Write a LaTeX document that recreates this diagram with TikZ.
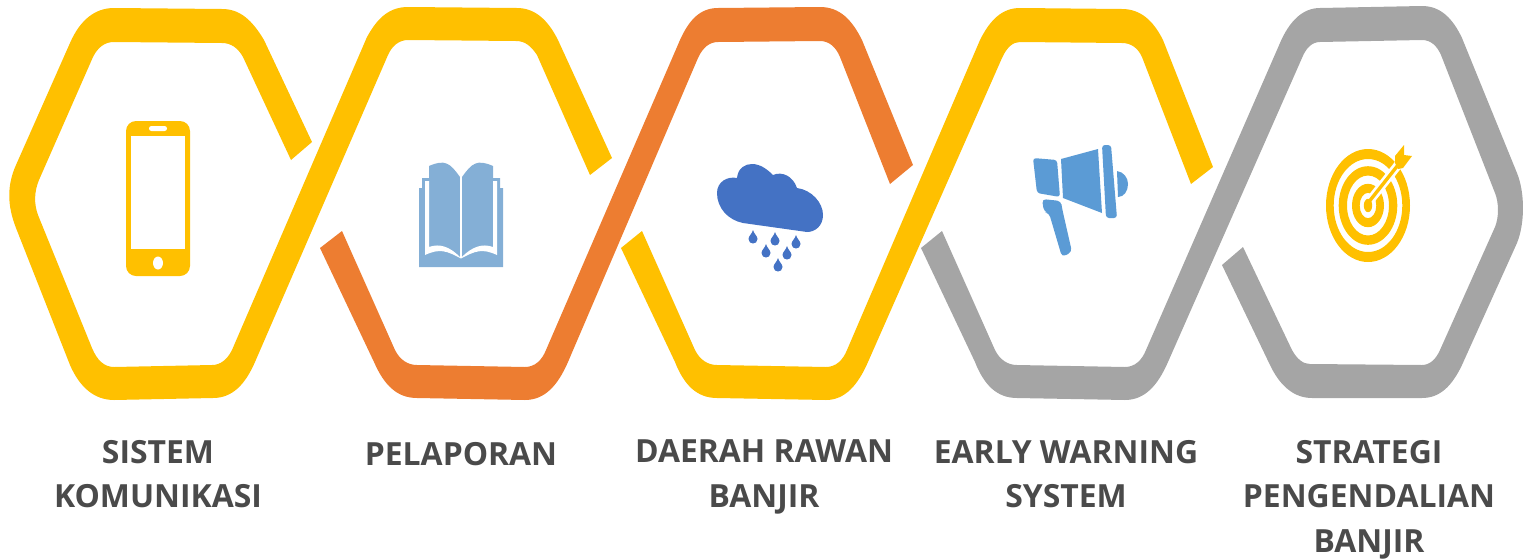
\documentclass[tikz,border=0pt]{standalone}
\usepackage{fontspec}
\setmainfont{Open Sans}
\definecolor{cyel}{HTML}{FFC000}
\definecolor{cora}{HTML}{ED7D31}
\definecolor{cgry}{HTML}{A5A5A5}
\definecolor{cbook}{HTML}{84AFD6}
\definecolor{crain}{HTML}{4472C4}
\definecolor{cmeg}{HTML}{5B9BD5}
\definecolor{ctxt}{HTML}{4A4A4A}
\tikzset{
  lbl/.style={font=\bfseries\fontsize{15.95}{22.4}\selectfont,text=ctxt,align=center,anchor=north,inner sep=0pt},
  band/.style={fill=#1,draw=none}
}
\begin{document}
\begin{tikzpicture}[x=0.5pt,y=-0.5pt]
\useasboundingbox (0,0) rectangle (1523,558);
% yellow 1
\path[band=cyel] (312,142) -- (264,40) .. controls (252,20) and (240,9) .. (222,9) -- (114,8)
 .. controls (95,8) and (80,20) .. (70,43) -- (16,165) .. controls (7,185) and (7,205) .. (16,228)
 -- (70,365) .. controls (80,388) and (95,400) .. (114,400) -- (213,398) .. controls (232,398) and (245,385) .. (255,362)
 -- (388,55) .. controls (392,46) and (399,40) .. (408,40) -- (516,41) .. controls (525,41) and (531,46) .. (537,55)
 -- (590,175) -- (612,158) -- (558,40) .. controls (548,20) and (535,8) .. (517,8) -- (408,7)
 .. controls (390,7) and (378,17) .. (367,37) -- (232,350) .. controls (227,360) and (220,365) .. (212,365)
 -- (114,367) .. controls (104,367) and (97,360) .. (92,348) -- (38,215) .. controls (34,204) and (34,192) .. (39,180)
 -- (93,57) .. controls (98,47) and (105,42) .. (114,42) -- (222,43) .. controls (231,43) and (238,48) .. (243,57) -- (291,160) -- cycle;
% orange
\path[band=cora] (320,248) -- (342,231) -- (395,350) .. controls (400,360) and (408,365) .. (417,365) -- (525,367)
 .. controls (535,367) and (542,360) .. (546,350) -- (680,40) .. controls (689,20) and (700,8) .. (718,8) -- (820,7)
 .. controls (840,7) and (852,20) .. (862,40) -- (913,165) -- (890,184) -- (840,57) .. controls (836,47) and (829,41) .. (820,41)
 -- (718,42) .. controls (710,42) and (703,47) .. (698,58) -- (568,362) .. controls (558,385) and (545,400) .. (525,400)
 -- (417,398) .. controls (397,398) and (384,385) .. (374,362) -- cycle;
% yellow 2
\path[band=cyel] (621,248) -- (642,231) -- (695,350) .. controls (700,360) and (708,365) .. (717,365) -- (826,367)
 .. controls (836,367) and (843,360) .. (847,350) -- (980,40) .. controls (990,20) and (1002,8) .. (1020,8) -- (1122,9)
 .. controls (1140,9) and (1153,20) .. (1163,40) -- (1213,167) -- (1191,184) -- (1142,57) .. controls (1138,48) and (1131,43) .. (1122,43)
 -- (1020,42) .. controls (1013,42) and (1007,47) .. (1002,58) -- (868,362) .. controls (858,385) and (845,400) .. (826,400)
 -- (717,398) .. controls (697,398) and (684,385) .. (675,362) -- cycle;
% gray
\path[band=cgry] (921,248) -- (942,231) -- (995,350) .. controls (1000,360) and (1008,365) .. (1017,365) -- (1125,367)
 .. controls (1135,367) and (1142,360) .. (1146,350) -- (1280,43) .. controls (1289,22) and (1302,8) .. (1320,8) -- (1422,6)
 .. controls (1441,6) and (1453,19) .. (1462,38) -- (1517,173) .. controls (1525,193) and (1525,223) .. (1517,243)
 -- (1462,365) .. controls (1452,386) and (1440,398) .. (1422,398) -- (1312,398) .. controls (1294,398) and (1280,386) .. (1270,365)
 -- (1222,265) -- (1243,247) -- (1292,350) .. controls (1297,359) and (1303,364) .. (1310,364) -- (1422,365)
 .. controls (1430,365) and (1436,359) .. (1440,350) -- (1495,227) .. controls (1499,217) and (1499,203) .. (1495,193)
 -- (1441,55) .. controls (1437,46) and (1431,40) .. (1422,40) -- (1320,42) .. controls (1312,42) and (1306,48) .. (1302,58)
 -- (1168,362) .. controls (1158,385) and (1145,400) .. (1125,400) -- (1017,398) .. controls (997,398) and (984,385) .. (975,362) -- cycle;
% phone
\fill[cyel,rounded corners=5pt] (126,121) rectangle (190,276);
\fill[white] (131,136) rectangle (185,249);
\fill[white,rounded corners=1.2pt] (149,126) rectangle (167,131);
\fill[white] (158,263) ellipse [x radius=5,y radius=6.5];
% book
\fill[cbook] (419,267) -- (419,188) -- (422,188) -- (422,178) -- (429,178) -- (429,166) .. controls (445,159) and (450,163) .. (460,177)
 -- (462,177) .. controls (472,163) and (477,159) .. (493,166) -- (493,178) -- (500,178) -- (500,188) -- (503,188) -- (503,267) -- cycle;
\fill[white] (425,181) -- (429,181) -- (429,247) .. controls (440,243) and (450,247) .. (460,257) -- (460,176) -- (461.8,176) -- (461.8,257)
 .. controls (472,247) and (482,243) .. (493,247) -- (493,181) -- (497,181) -- (497,255)
 .. controls (482,248) and (475,251) .. (461,258.5) .. controls (447,251) and (440,248) .. (425,255) -- cycle;
% cloud
\fill[crain] (737,178) .. controls (738,168) and (745,164) .. (752,164) .. controls (760,164) and (767,169) .. (773,175)
 .. controls (782,171) and (793,176) .. (797,188) .. controls (812,190) and (823,203) .. (823,215)
 .. controls (823,226) and (815,232) .. (807,232) -- (743,223) .. controls (728,220) and (717,208) .. (717,193)
 .. controls (717,182) and (727,176) .. (737,178) -- cycle;
\foreach \dx/\dy in {753/237,775/239,796/242,766/251,787/253,778/265}{
  \fill[crain] (\dx,\dy-7) .. controls (\dx+1,\dy-3) and (\dx+4.5,\dy-1) .. (\dx+4.5,\dy+2)
   .. controls (\dx+4.5,\dy+8) and (\dx-4.5,\dy+8) .. (\dx-4.5,\dy+2) .. controls (\dx-4.5,\dy-1) and (\dx-1,\dy-3) .. (\dx,\dy-7) -- cycle;
}
% megaphone
\fill[cmeg,rounded corners=1.5pt] (1033,158) -- (1057,160) -- (1060,197) -- (1037,193) -- cycle;
\fill[cmeg] (1061,159) -- (1098,149) -- (1102,213) -- (1063,198) -- cycle;
\fill[cmeg,rounded corners=1.5pt] (1102,145) -- (1111,145) -- (1117,218) -- (1106,218) -- cycle;
\fill[cmeg] (1117,171) .. controls (1124,172) and (1128,178) .. (1128,184) .. controls (1128,191) and (1124,197) .. (1118,197) -- cycle;
\fill[cmeg,rounded corners=2pt] (1042,199) -- (1061,201) -- (1062,208) -- (1072,252) -- (1062,257) -- (1049,213) -- (1044,212) -- cycle;
% target
\fill[cyel,even odd rule] (1368,205.5) ellipse [x radius=42,y radius=56.5] (1368,205.5) ellipse [x radius=34.3,y radius=46.5]
 (1368,205.5) ellipse [x radius=29.3,y radius=39.3] (1368,205.5) ellipse [x radius=21,y radius=30]
 (1368,205.5) ellipse [x radius=16,y radius=21.7] (1368,205.5) ellipse [x radius=8.3,y radius=12.7];
\coordinate (arrS) at (1368,203);
\coordinate (arrE) at (1402,160);
\draw[white,line width=4.4pt] (arrS) -- (arrE);
\draw[cyel,line width=1.7pt] (arrS) -- (arrE);
\fill[cyel] (1404,145) -- (1404,155) -- (1412,156) -- (1403,168) -- (1398,169) -- (1395,163) -- (1395,156) -- cycle;
\fill[cyel] (1368,205.5) ellipse [x radius=4.2,y radius=6.7];
% labels
\node[lbl] (t1) at (158,439.5) {SISTEM\\KOMUNIKASI};
\node[lbl] (t2) at (461,441.5) {PELAPORAN};
\node[lbl] (t3) at (764,439.5) {DAERAH RAWAN\\BANJIR};
\node[lbl] (t4) at (1066,439.5) {EARLY WARNING\\SYSTEM};
\node[lbl] (t5) at (1369,439.5) {STRATEGI\\PENGENDALIAN\\BANJIR};
\end{tikzpicture}
\end{document}
